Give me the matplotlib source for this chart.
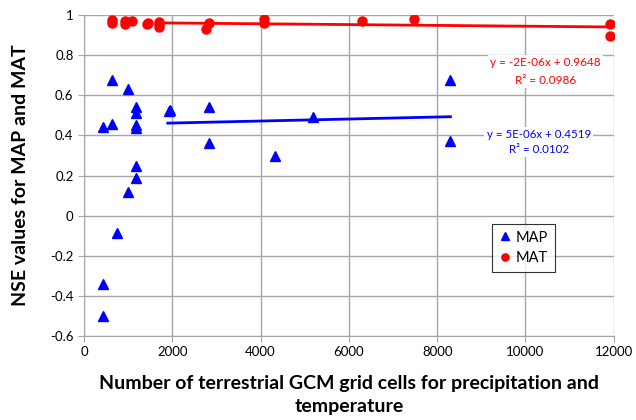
import matplotlib
matplotlib.use('Agg')
import matplotlib.pyplot as plt
import numpy as np

# MAP (precipitation) NSE values
map_x = [423, 423, 423, 634, 634, 755, 989, 989, 1177, 1177, 1177, 1177, 1177, 1177,
         1932, 1950, 2830, 2830, 4324, 5192, 8301, 8301]
map_y = [0.44, -0.34, -0.50, 0.676, 0.456, -0.086, 0.63, 0.116, 0.543, 0.51, 0.45, 0.435,
         0.248, 0.188, 0.521, 0.525, 0.54, 0.363, 0.30, 0.49, 0.676, 0.37]

# MAT (temperature) NSE values
mat_x = [627, 627, 928, 940, 1080, 1418, 1440, 1698, 1698, 1710, 2762, 2837, 4083, 4083,
         6287, 7471, 11908, 11908]
mat_y = [0.975, 0.96, 0.97, 0.955, 0.97, 0.958, 0.962, 0.967, 0.94, 0.955, 0.933, 0.962,
         0.983, 0.962, 0.97, 0.98, 0.955, 0.897]

# trendline coefficients (from chart labels) and x extent
map_slope, map_icpt = 5e-06, 0.4519
mat_slope, mat_icpt = -2e-06, 0.9648
map_trend_x = [1900, 8300]
mat_trend_x = [1790, 11908]

plt.rcParams['font.family'] = ['Lato', 'DejaVu Sans']

fig = plt.figure(figsize=(6.36, 4.2), dpi=100)
ax = fig.add_axes([0.132, 0.2, 0.833, 0.764])

ax.set_xlim(0, 12000)
ax.set_ylim(-0.6, 1.0)
ax.set_xticks(np.arange(0, 12001, 2000))
yt = np.round(np.arange(-0.6, 1.01, 0.2), 1)
ax.set_yticks(yt)
ax.set_yticklabels([('%g' % v) for v in yt])
ax.grid(True, color='#a6a6a6', linewidth=1.0)
ax.set_axisbelow(True)
for s in ['top', 'right']:
    ax.spines[s].set_visible(False)
for s in ['left', 'bottom']:
    ax.spines[s].set_color('#a6a6a6')
ax.tick_params(axis='both', direction='out', length=4, color='#a6a6a6', labelsize=9.5)

ax.plot(map_x, map_y, '^', color='#0000ff', markersize=6.8, label='MAP', linestyle='none')
ax.plot(mat_x, mat_y, 'o', color='#ff0000', markersize=6.5, label='MAT', linestyle='none')

tx = np.array(map_trend_x)
ax.plot(tx, map_slope * tx + map_icpt, color='#0000ff', linewidth=2)
tx = np.array(mat_trend_x)
ax.plot(tx, mat_slope * tx + mat_icpt, color='#ff0000', linewidth=2)

box = dict(facecolor='white', edgecolor='none', pad=1.5)
ax.text(10460, 0.72, 'y = -2E-06x + 0.9648\nR² = 0.0986', color='#ff0000', fontsize=8.5,
        ha='center', va='center', linespacing=1.75, bbox=box)
ax.text(10300, 0.369, 'y = 5E-06x + 0.4519\nR² = 0.0102', color='#0000ff', fontsize=8.3,
        ha='center', va='center', linespacing=1.45, bbox=box)

leg = ax.legend(loc='upper left', bbox_to_anchor=(0.77, 0.349), fontsize=10.5,
                frameon=True, fancybox=False, edgecolor='black', handlelength=0.9,
                handletextpad=0.3, borderpad=0.45, labelspacing=0.45, markerscale=0.8,
                borderaxespad=0)
leg.get_frame().set_linewidth(0.8)

ax.set_ylabel('NSE values for MAP and MAT', fontsize=14, fontweight='bold', labelpad=15)
ax.set_xlabel('Number of terrestrial GCM grid cells for precipitation and\ntemperature',
              fontsize=14, fontweight='bold', linespacing=1.4, labelpad=12)

fig.savefig('out.png', dpi=100)
